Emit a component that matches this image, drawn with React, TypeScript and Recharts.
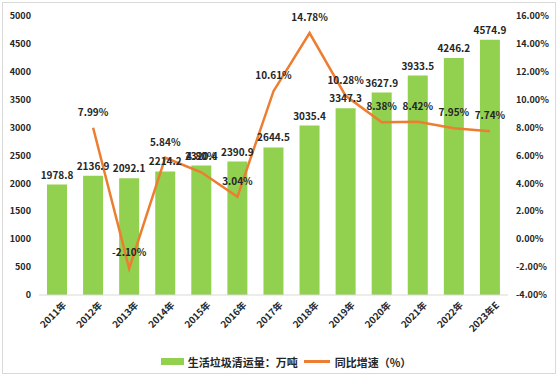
import { ComposedChart, Bar, Line, XAxis, YAxis, Legend, LabelList } from 'recharts'

const years = ['2011年', '2012年', '2013年', '2014年', '2015年', '2016年', '2017年', '2018年', '2019年', '2020年', '2021年', '2022年', '2023年E']
const volume = [1978.8, 2136.9, 2092.1, 2214.2, 2320.4, 2390.9, 2644.5, 3035.4, 3347.3, 3627.9, 3933.5, 4246.2, 4574.9]
const growth = [null, 7.99, -2.1, 5.84, 4.8, 3.04, 10.61, 14.78, 10.28, 8.38, 8.42, 7.95, 7.74]
const leftTicks = [0, 500, 1000, 1500, 2000, 2500, 3000, 3500, 4000, 4500, 5000]
const rightTicks = [-4, -2, 0, 2, 4, 6, 8, 10, 12, 14, 16]
const seriesNames = ['生活垃圾清运量：万吨', '同比增速（%）']

const data = years.map((year, i) => ({ year, volume: volume[i], growth: growth[i] }))

const font = '"Noto Sans CJK SC", "Noto Sans", sans-serif'
const dark = '#262626'
const green = '#92D050'
const orange = '#ED7D31'

const XTick = ({ x, y, payload }: any) => (
  <text
    x={x}
    y={y}
    dx={5}
    dy={9}
    transform={`rotate(-45 ${x} ${y})`}
    textAnchor="end"
    fontSize={9.5}
    fontWeight="bold"
    fill={dark}
    fontFamily={font}
  >
    {payload.value}
  </text>
)

const LegendBox = () => (
  <div
    style={{
      display: 'flex',
      justifyContent: 'center',
      alignItems: 'center',
      fontSize: 11,
      fontWeight: 'bold',
      color: dark,
      fontFamily: font,
      height: 29,
      paddingLeft: 14,
    }}
  >
    <span style={{ display: 'inline-block', width: 23, height: 7, background: green, marginRight: 4 }} />
    <span style={{ marginRight: 6 }}>{seriesNames[0]}</span>
    <span style={{ display: 'inline-block', width: 26, height: 2.5, background: orange, marginRight: 5 }} />
    <span>{seriesNames[1]}</span>
  </div>
)

const App = () => {
  return (
    <div style={{ position: 'absolute', left: 0, top: 0, width: 558, height: 376, background: '#fff' }}>
      <div style={{ position: 'absolute', left: 2, top: 2, width: 552, height: 370, border: '1px solid #d9d9d9' }} />
      <ComposedChart
        width={558}
        height={376}
        data={data}
        margin={{ top: 16, right: 0, bottom: 0, left: 0 }}
        barCategoryGap={16}
        style={{ fontFamily: font }}
      >
        <XAxis
          dataKey="year"
          interval={0}
          height={52}
          tick={<XTick />}
          tickLine={false}
          axisLine={{ stroke: '#d9d9d9' }}
        />
        <YAxis
          yAxisId="left"
          width={39}
          domain={[0, 5000]}
          ticks={leftTicks}
          axisLine={false}
          tickLine={false}
          tick={{ fontSize: 9, fontWeight: 'bold', fill: dark }}
        />
        <YAxis
          yAxisId="right"
          orientation="right"
          width={50}
          domain={[-4, 16]}
          ticks={rightTicks}
          axisLine={false}
          tickLine={false}
          tickFormatter={(v: number) => `${v.toFixed(2)}%`}
          tick={{ fontSize: 9, fontWeight: 'bold', fill: dark, textAnchor: 'start' }}
        />
        <Legend verticalAlign="bottom" height={29} content={<LegendBox />} />
        <Bar yAxisId="left" dataKey="volume" name={seriesNames[0]} fill={green} barSize={20} isAnimationActive={false}>
          <LabelList
            dataKey="volume"
            position="top"
            offset={6}
            style={{ fontSize: 10, fontWeight: 'bold', fill: dark }}
          />
        </Bar>
        <Line
          yAxisId="right"
          dataKey="growth"
          name={seriesNames[1]}
          stroke={orange}
          strokeWidth={2.5}
          dot={false}
          activeDot={false}
          isAnimationActive={false}
        >
          <LabelList
            dataKey="growth"
            position="top"
            offset={12}
            formatter={(v: any) => (v == null ? '' : `${Number(v).toFixed(2)}%`)}
            style={{ fontSize: 10, fontWeight: 'bold', fill: dark }}
          />
        </Line>
      </ComposedChart>
    </div>
  )
}

export default App
